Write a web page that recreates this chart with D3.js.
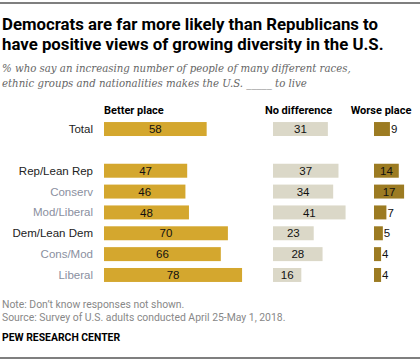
<!DOCTYPE html>
<html>
<head>
<meta charset="utf-8">
<script src="https://cdn.jsdelivr.net/npm/d3@7"></script>
<style>
  body { margin: 0; background: #fff; }
  svg { display: block; }
</style>
</head>
<body>
<div id="vis"></div>
<script>
// chart data
const groups = ["Total", "", "Rep/Lean Rep", "Conserv", "Mod/Liberal", "Dem/Lean Dem", "Cons/Mod", "Liberal"];
const better = [58, null, 47, 46, 48, 70, 66, 78];
const noDiff = [31, null, 37, 34, 41, 23, 28, 16];
const worse = [9, null, 14, 17, 7, 5, 4, 4];
const subGroups = ["Conserv", "Mod/Liberal", "Cons/Mod", "Liberal"];
const columns = ["Better place", "No difference", "Worse place"];

const WIDTH = 420;
const HEIGHT = 363;
const NARROW = "'Liberation Sans Narrow', 'Roboto', sans-serif";
const SANS = "'Liberation Sans', Arial, sans-serif";

const svg = d3.select("#vis")
  .append("svg")
    .attr("width", WIDTH)
    .attr("height", HEIGHT);

// top and bottom rules
svg.append("line").attr("x1", 0).attr("x2", WIDTH).attr("y1", 3).attr("y2", 3)
  .attr("stroke", "#000").attr("stroke-width", 1.2);
svg.append("line").attr("x1", 0).attr("x2", WIDTH).attr("y1", 358).attr("y2", 358)
  .attr("stroke", "#000").attr("stroke-width", 1.2);

// title
const title = svg.append("text")
  .attr("font-family", "Roboto, sans-serif")
  .attr("font-weight", "bold")
  .attr("font-size", "16.8px")
  .attr("fill", "#000");
title.append("tspan").attr("x", 2).attr("y", 30).text("Democrats are far more likely than Republicans to");
title.append("tspan").attr("x", 2).attr("y", 50).text("have positive views of growing diversity in the U.S.");

// subtitle
const sub = svg.append("text")
  .attr("font-family", "'DejaVu Serif', serif")
  .attr("font-style", "italic")
  .attr("font-size", "10.2px")
  .attr("fill", "#666");
sub.append("tspan").attr("x", 2).attr("y", 72).text("% who say an increasing number of people of many different races,");
sub.append("tspan").attr("x", 2).attr("y", 87).text("ethnic groups and nationalities makes the U.S. _____ to live");

// scales
const Y = d3.scaleBand()
  .domain(d3.range(groups.length))
  .range([118.5, 285.5])
  .paddingInner(0.33)
  .paddingOuter(0.17);

const X = d3.scaleLinear().domain([0, 100]).range([0, 177]);

const colX = [104, 273, 374];
const colors = ["#D4A72E", "#DBD8C8", "#9C7B22"];
const series = [better, noDiff, worse];

// column headers
const headX = [104, 298.5, 381];
const headAnchor = ["start", "middle", "middle"];
svg.selectAll("text.head")
  .data(columns)
  .enter()
  .append("text")
    .attr("class", "head")
    .attr("x", (d, i) => headX[i])
    .attr("y", 114)
    .attr("text-anchor", (d, i) => headAnchor[i])
    .attr("font-family", NARROW)
    .attr("font-weight", "bold")
    .attr("font-size", "11px")
    .attr("fill", "#000")
    .text(d => d);

// row labels
svg.selectAll("text.row")
  .data(groups)
  .enter()
  .append("text")
    .attr("class", "row")
    .attr("x", 93)
    .attr("y", (d, i) => Y(i) + Y.bandwidth() / 2)
    .attr("dy", "0.35em")
    .attr("text-anchor", "end")
    .attr("font-family", SANS)
    .attr("font-size", "11.5px")
    .attr("fill", d => subGroups.includes(d) ? "#8a8fa0" : "#222")
    .text(d => d);

// bars + values
series.forEach((vals, s) => {
  const rows = vals.map((v, i) => ({v: v, i: i})).filter(d => d.v !== null);
  const g = svg.append("g").attr("transform", "translate(" + colX[s] + ",0)");

  g.selectAll("rect")
    .data(rows)
    .enter()
    .append("rect")
      .attr("x", 0)
      .attr("y", d => Y(d.i))
      .attr("width", d => X(d.v))
      .attr("height", Y.bandwidth())
      .attr("fill", colors[s]);

  g.selectAll("text")
    .data(rows)
    .enter()
    .append("text")
      .attr("x", d => (s === 2 && d.v < 14) ? X(d.v) + 1 : X(d.v) / 2)
      .attr("y", d => Y(d.i) + Y.bandwidth() / 2)
      .attr("dy", "0.36em")
      .attr("text-anchor", d => (s === 2 && d.v < 14) ? "start" : "middle")
      .attr("font-family", SANS)
      .attr("font-size", "11.5px")
      .attr("fill", "#111")
      .text(d => d.v);
});

// footer
const foot = svg.append("text")
  .attr("font-family", NARROW)
  .attr("font-size", "10.4px")
  .attr("fill", "#888");
foot.append("tspan").attr("x", 2).attr("y", 308).text("Note: Don\u2019t know responses not shown.");
foot.append("tspan").attr("x", 2).attr("y", 321).text("Source: Survey of U.S. adults conducted April 25-May 1, 2018.");

svg.append("text")
  .attr("x", 2)
  .attr("y", 341)
  .attr("font-family", NARROW)
  .attr("font-weight", "bold")
  .attr("font-size", "10.4px")
  .attr("fill", "#000")
  .text("PEW RESEARCH CENTER");
</script>
</body>
</html>
